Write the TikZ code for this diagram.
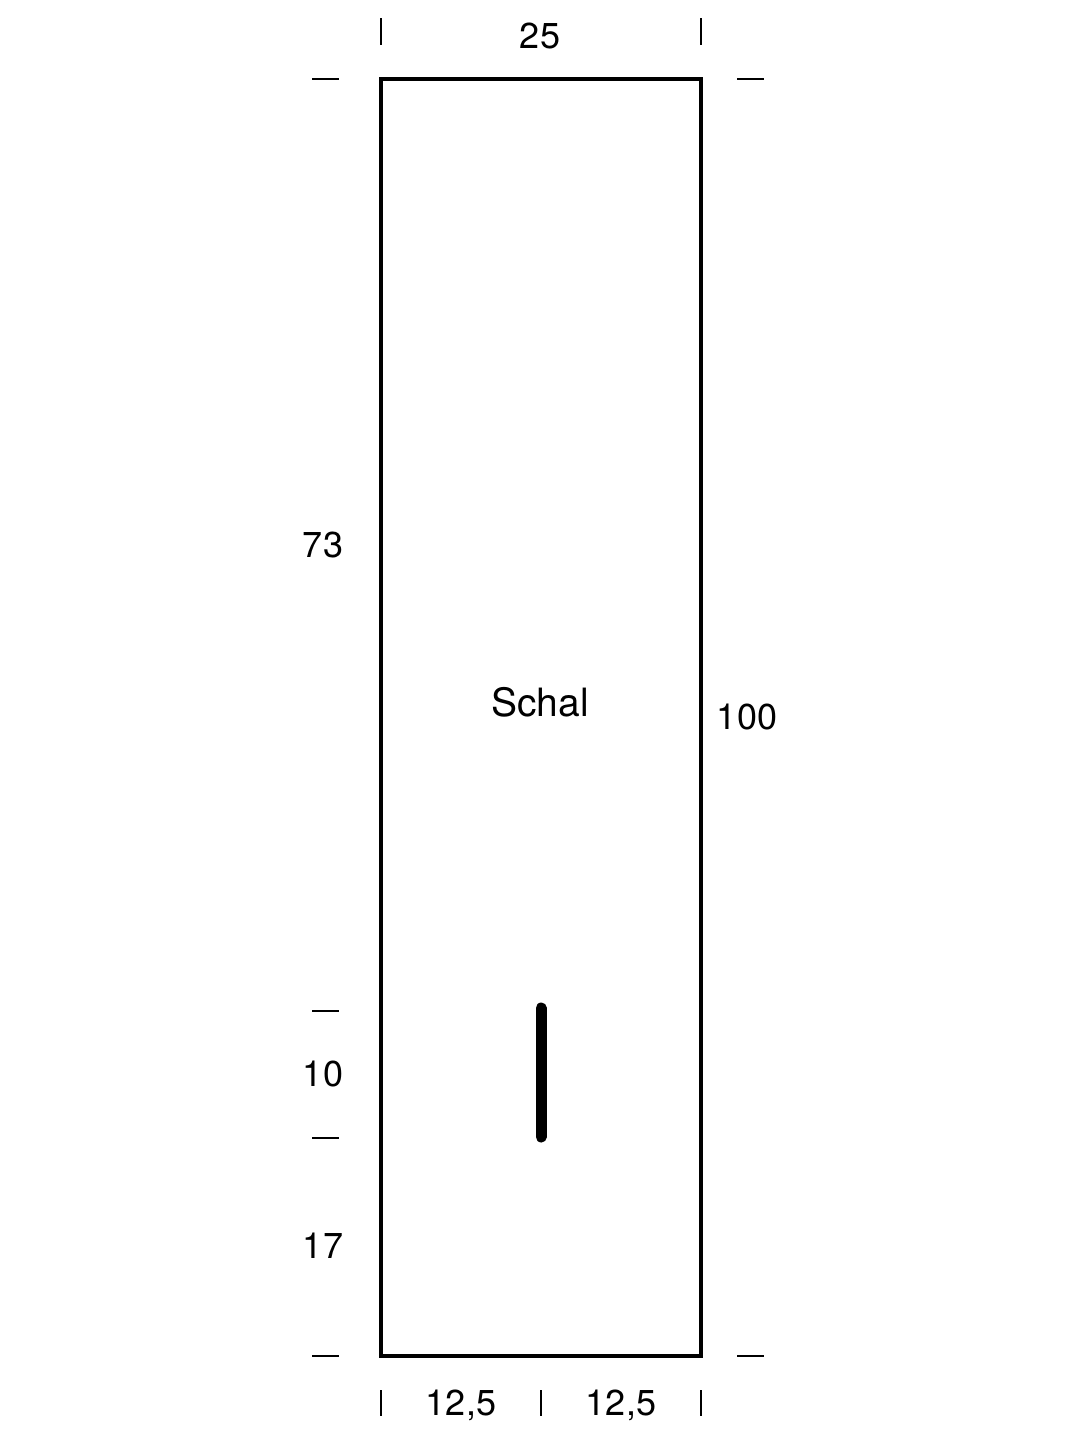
\documentclass[tikz,border=0pt]{standalone}
\usepackage{fontspec}
\setmainfont{TeX Gyre Heros}
\begin{document}
\begin{tikzpicture}[x=0.5pt,y=-0.5pt,
  tick/.style={line width=0.8pt},
  lbl/.style={font=\fontsize{18}{20}\selectfont, inner sep=0pt},
  title/.style={font=\fontsize{19.5}{22}\selectfont, inner sep=0pt},
  outline/.style={line width=2.2pt},
  slit/.style={line width=5.5pt, line cap=round}]
\useasboundingbox (0,0) rectangle (1080,1440);
% scarf outline
\draw[outline] (381,79) rectangle (701,1356);
% slit
\coordinate (s1) at (541,1008);
\coordinate (s2) at (541,1137);
\draw[slit] (s1) -- (s2);
% top ticks
\draw[tick] (381,18) -- (381,45);
\draw[tick] (701,18) -- (701,45);
% side ticks
\draw[tick] (312,79) -- (339,79);
\draw[tick] (737,79) -- (764,79);
\draw[tick] (312,1011) -- (339,1011);
\draw[tick] (312,1138) -- (339,1138);
\draw[tick] (312,1356) -- (339,1356);
\draw[tick] (737,1356) -- (764,1356);
% bottom ticks
\draw[tick] (381,1390) -- (381,1416);
\draw[tick] (541,1390) -- (541,1416);
\draw[tick] (701,1390) -- (701,1416);
% labels
\node[lbl] (w) at (540,36) {25};
\node[lbl] (h73) at (323,545) {73};
\node[title] (name) at (540,702) {Schal};
\node[lbl] (h100) at (747,717) {100};
\node[lbl] (h10) at (323,1074) {10};
\node[lbl] (h17) at (323,1246) {17};
\node[lbl] (b1) at (461,1405) {12,5};
\node[lbl] (b2) at (621,1405) {12,5};
\end{tikzpicture}
\end{document}
